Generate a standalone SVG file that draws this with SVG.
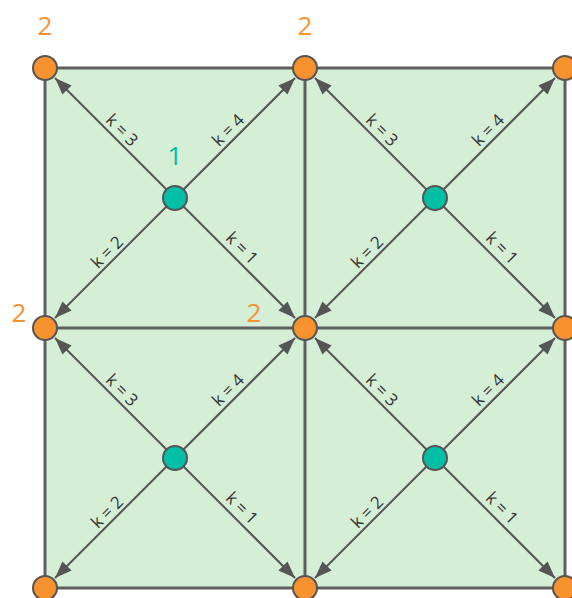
<svg xmlns="http://www.w3.org/2000/svg" width="572" height="598" viewBox="0 0 572 598">
<defs>
<style>
.grid{stroke:#5e5e5e;stroke-width:3;fill:none}
.edge{stroke:#555;stroke-width:2;fill:none;marker-end:url(#ah)}
.corner{fill:#f7922f;stroke:#555;stroke-width:2}
.center{fill:#00bfa5;stroke:#555;stroke-width:2}
.kl{font-family:"Open Sans","Liberation Sans",sans-serif;font-size:17px;fill:#333;text-anchor:middle}
.on{font-family:"Open Sans","Liberation Sans",sans-serif;font-size:26px;fill:#f7922f;text-anchor:middle}
.tn{font-family:"Open Sans","Liberation Sans",sans-serif;font-size:26px;fill:#00bfa5;text-anchor:middle}
</style>
<marker id="ah" viewBox="0 0 17 13" markerWidth="17" markerHeight="13" refX="17" refY="6.5" orient="auto" markerUnits="userSpaceOnUse">
<path d="M0,0 L17,6.5 L0,13 z" fill="#555"/>
</marker>
</defs>
<rect x="45" y="68" width="520" height="520" fill="#d5eed6"/>
<g id="grid">
<path class="grid" d="M45,68 H565 M45,328 H565 M45,588 H565 M45,68 V588 M305,68 V588 M565,68 V588"/>
</g>
<g id="connectors">
<path class="edge" d="M175,198 L55,78"/>
<path class="edge" d="M175,198 L295,78"/>
<path class="edge" d="M175,198 L55,318"/>
<path class="edge" d="M175,198 L295,318"/>
<path class="edge" d="M435,198 L315,78"/>
<path class="edge" d="M435,198 L555,78"/>
<path class="edge" d="M435,198 L315,318"/>
<path class="edge" d="M435,198 L555,318"/>
<path class="edge" d="M175,458 L55,338"/>
<path class="edge" d="M175,458 L295,338"/>
<path class="edge" d="M175,458 L55,578"/>
<path class="edge" d="M175,458 L295,578"/>
<path class="edge" d="M435,458 L315,338"/>
<path class="edge" d="M435,458 L555,338"/>
<path class="edge" d="M435,458 L315,578"/>
<path class="edge" d="M435,458 L555,578"/>
</g>
<g id="edge-labels">
<text class="kl" transform="translate(122,130) rotate(45)" dy=".35em">k = 3</text>
<text class="kl" transform="translate(228,130) rotate(-45)" dy=".35em">k = 4</text>
<text class="kl" transform="translate(242,248) rotate(45)" dy=".35em">k = 1</text>
<text class="kl" transform="translate(107,252) rotate(-45)" dy=".35em">k = 2</text>
<text class="kl" transform="translate(382,130) rotate(45)" dy=".35em">k = 3</text>
<text class="kl" transform="translate(488,130) rotate(-45)" dy=".35em">k = 4</text>
<text class="kl" transform="translate(502,248) rotate(45)" dy=".35em">k = 1</text>
<text class="kl" transform="translate(367,252) rotate(-45)" dy=".35em">k = 2</text>
<text class="kl" transform="translate(122,390) rotate(45)" dy=".35em">k = 3</text>
<text class="kl" transform="translate(228,390) rotate(-45)" dy=".35em">k = 4</text>
<text class="kl" transform="translate(242,508) rotate(45)" dy=".35em">k = 1</text>
<text class="kl" transform="translate(107,512) rotate(-45)" dy=".35em">k = 2</text>
<text class="kl" transform="translate(382,390) rotate(45)" dy=".35em">k = 3</text>
<text class="kl" transform="translate(488,390) rotate(-45)" dy=".35em">k = 4</text>
<text class="kl" transform="translate(502,508) rotate(45)" dy=".35em">k = 1</text>
<text class="kl" transform="translate(367,512) rotate(-45)" dy=".35em">k = 2</text>
</g>
<g id="c11"><circle class="center" cx="175" cy="198" r="12"/><text class="tn" x="175" y="165">1</text></g>
<g id="c12"><circle class="center" cx="435" cy="198" r="12"/></g>
<g id="c21"><circle class="center" cx="175" cy="458" r="12"/></g>
<g id="c22"><circle class="center" cx="435" cy="458" r="12"/></g>
<g id="v00"><circle class="corner" cx="45" cy="68" r="12"/><text class="on" x="45" y="35">2</text></g>
<g id="v01"><circle class="corner" cx="305" cy="68" r="12"/><text class="on" x="305" y="35">2</text></g>
<g id="v02"><circle class="corner" cx="565" cy="68" r="12"/></g>
<g id="v10"><circle class="corner" cx="45" cy="328" r="12"/><text class="on" x="19" y="322">2</text></g>
<g id="v11"><circle class="corner" cx="305" cy="328" r="12"/><text class="on" x="254" y="322">2</text></g>
<g id="v12"><circle class="corner" cx="565" cy="328" r="12"/></g>
<g id="v20"><circle class="corner" cx="45" cy="588" r="12"/></g>
<g id="v21"><circle class="corner" cx="305" cy="588" r="12"/></g>
<g id="v22"><circle class="corner" cx="565" cy="588" r="12"/></g>
</svg>
